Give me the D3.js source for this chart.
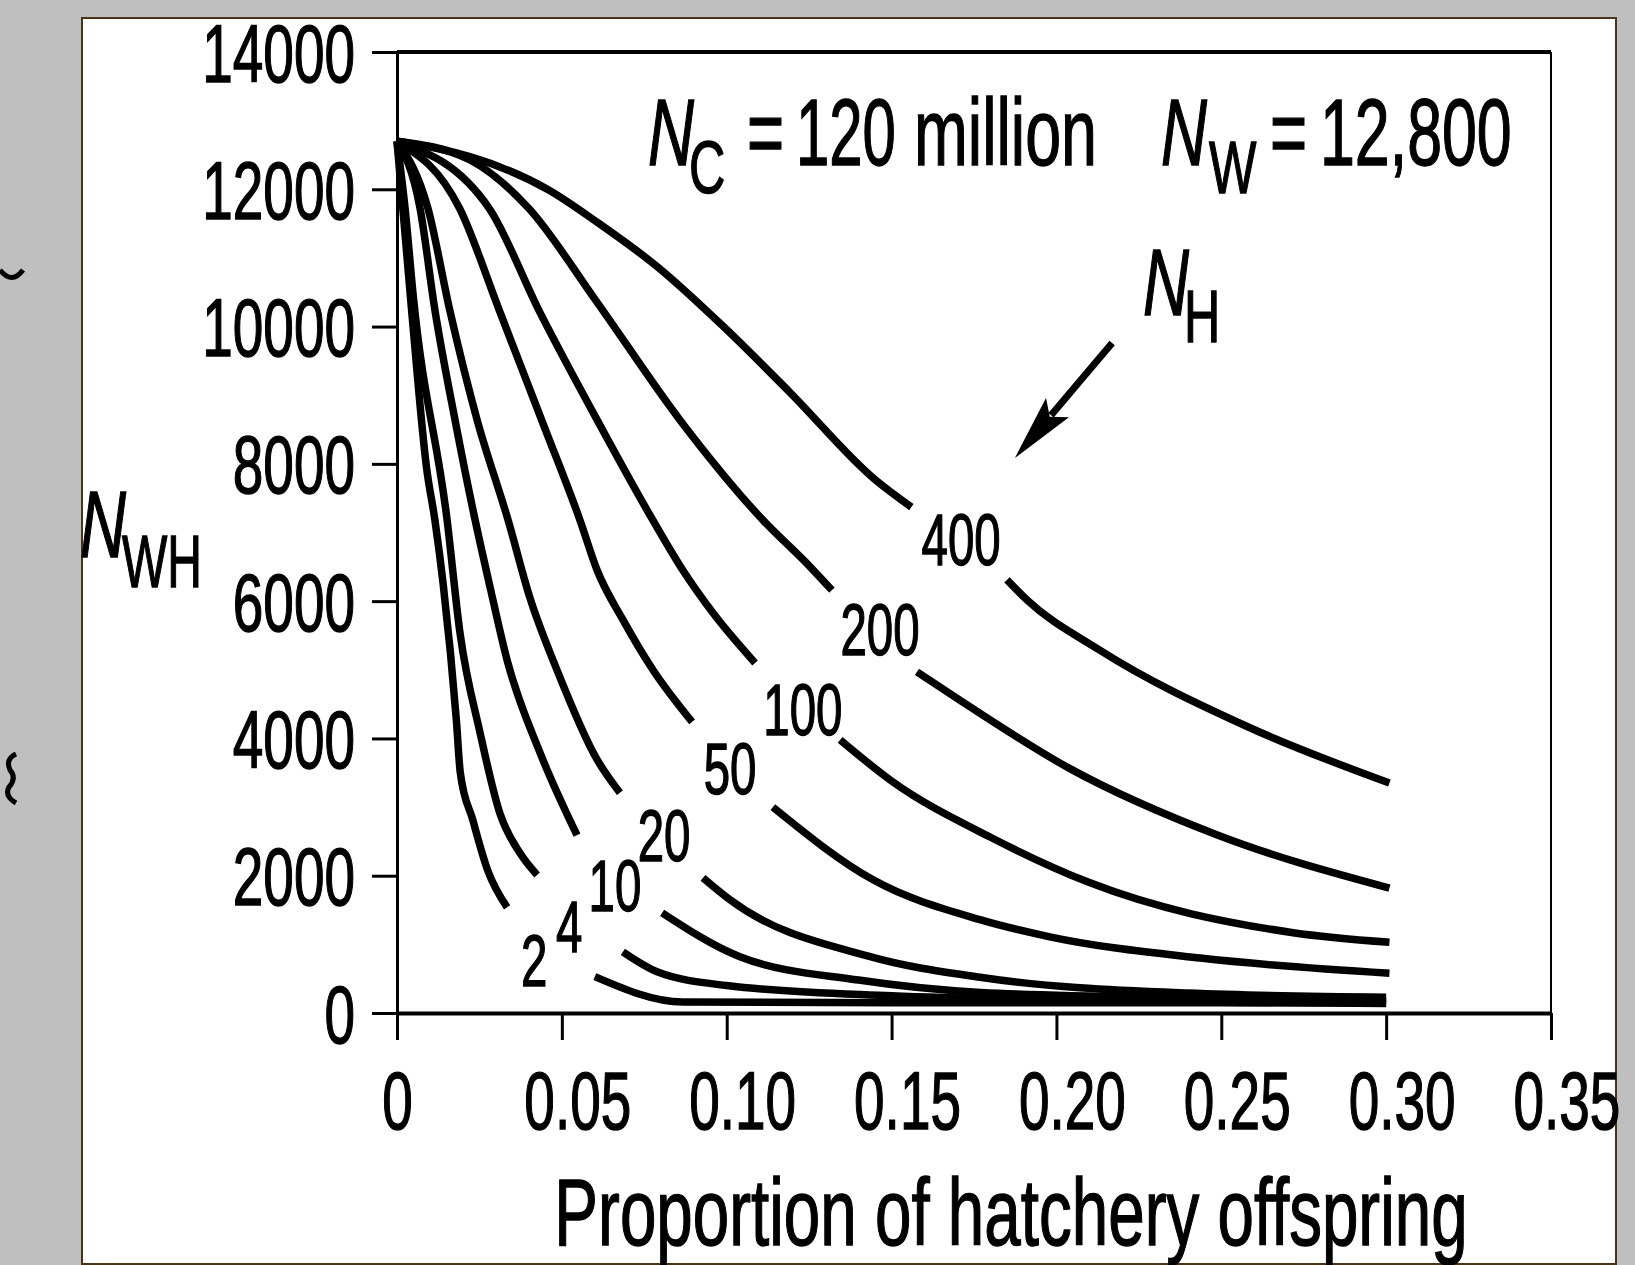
<!DOCTYPE html>
<html>
<head>
<meta charset="utf-8">
<script src="https://cdn.jsdelivr.net/npm/d3@7"></script>
<style>
  html, body { margin: 0; padding: 0; background: #bfbfbf; }
  svg { display: block; }
  text { font-family: "Liberation Sans", Arial, sans-serif; fill: #000; stroke: #000; stroke-width: 1.4px; }
</style>
</head>
<body>
<svg id="chart" width="1635" height="1265"></svg>
<script>
// axis ticks
const xTicks = [0, 0.05, 0.10, 0.15, 0.20, 0.25, 0.30, 0.35];
const xTickLabels = ['0', '0.05', '0.10', '0.15', '0.20', '0.25', '0.30', '0.35'];
const yTicks = [0, 2000, 4000, 6000, 8000, 10000, 12000, 14000];

// hatchery sizes (N_H), one curve each
const hatcherySizes = [2, 4, 10, 20, 50, 100, 200, 400];

// [proportion of hatchery offspring, N_WH]; null = break where the label sits
const nwh2 = [[0,12700],[0.0045,10200],[0.009,7930],[0.0115,7180],[0.014,6250],[0.018,4270],[0.0192,3500],[0.023,2810],[0.0275,2080],[0.0334,1540],[0.045,null],[0.060,530],[0.0867,160],[0.15,150],[0.30,150]];
const nwh4 = [[0,12700],[0.0025,11700],[0.0049,10460],[0.0152,7180],[0.0191,5540],[0.0252,4080],[0.0312,2910],[0.0373,2330],[0.0425,2010],[0.05,null],[0.0685,890],[0.0789,600],[0.10,400],[0.15,250],[0.20,190],[0.30,140]];
const nwh10 = [[0,12700],[0.007,11720],[0.0115,10240],[0.0176,8640],[0.0237,7180],[0.0282,6210],[0.0334,5140],[0.0434,3790],[0.0546,2590],[0.06,null],[0.0804,1460],[0.104,820],[0.14,480],[0.177,300],[0.24,220],[0.30,180]];
const nwh20 = [[0,12700],[0.0094,11720],[0.016,10240],[0.0243,8640],[0.0337,7180],[0.0403,6050],[0.0485,5000],[0.0607,3690],[0.0676,3210],[0.075,null],[0.0928,1970],[0.101,1650],[0.1435,820],[0.1768,520],[0.24,290],[0.30,230]];
const nwh50 = [[0,12700],[0.019,11720],[0.031,10240],[0.045,8500],[0.0555,7180],[0.0607,6450],[0.0685,5730],[0.0776,5000],[0.0895,4240],[0.10,null],[0.114,3000],[0.1444,1940],[0.1768,1360],[0.198,1110],[0.2436,800],[0.301,580]];
const nwh100 = [[0,12700],[0.028,11720],[0.043,10240],[0.0616,8560],[0.0776,7180],[0.0867,6450],[0.0958,5830],[0.1086,5100],[0.12,null],[0.1344,3980],[0.15,3380],[0.18,2560],[0.21,1900],[0.2718,1170],[0.301,1030]];
const nwh200 = [[0,12700],[0.022,12430],[0.040,11720],[0.060,10400],[0.0858,8640],[0.111,7180],[0.1253,6500],[0.1319,6160],[0.14,null],[0.1577,4970],[0.17,4580],[0.2041,3560],[0.249,2590],[0.301,1820]];
const nwh400 = [[0,12700],[0.018,12530],[0.031,12330],[0.046,11990],[0.061,11510],[0.079,10870],[0.099,10000],[0.119,9050],[0.145,7770],[0.156,7370],[0.17,null],[0.185,6310],[0.191,6020],[0.213,5290],[0.258,4170],[0.301,3350]];
const curves = [nwh2, nwh4, nwh10, nwh20, nwh50, nwh100, nwh200, nwh400];

// where each N_H label sits, in data units
const labelAt = [[0.0416,772],[0.0522,1267],[0.0661,1865],[0.081,2593],[0.101,3569],[0.1231,4429],[0.1465,5594],[0.1711,6905]];

// N_H arrow, data units
const arrowFrom = [0.2169, 9761];
const arrowTo = [0.1874, 8085];

const svg = d3.select('#chart');
const squeeze = 0.67;

// white slide panel
svg.append('rect')
  .attr('x', 82).attr('y', 18).attr('width', 1534).attr('height', 1246)
  .attr('fill', '#fff').attr('stroke', '#4a3418').attr('stroke-width', 2);

// small stray marks in the grey margin
svg.append('path').attr('d', 'M0,270 Q12,285 23,270').attr('fill', 'none').attr('stroke', '#000').attr('stroke-width', 5);
svg.append('path').attr('d', 'M16,754 Q5,759 10,770 Q17,778 9,787 Q4,796 16,803').attr('fill', 'none').attr('stroke', '#000').attr('stroke-width', 5);

const x = d3.scaleLinear().domain([0, 0.35]).range([397, 1551]);
const y = d3.scaleLinear().domain([0, 14000]).range([1013, 52]);

// frame top and right
svg.append('line').attr('x1', x(0)).attr('x2', x(0.35)).attr('y1', y(14000)).attr('y2', y(14000))
  .attr('stroke', '#000').attr('stroke-width', 4);
svg.append('line').attr('x1', x(0.35)).attr('x2', x(0.35)).attr('y1', y(14000)).attr('y2', y(0))
  .attr('stroke', '#000').attr('stroke-width', 2);

// x axis
const gx = svg.append('g')
  .attr('transform', `translate(0,${y(0)})`)
  .call(d3.axisBottom(x).tickValues(xTicks).tickSize(27).tickSizeOuter(0)
    .tickFormat((d, i) => xTickLabels[i]));
gx.attr('font-family', null).attr('font-size', null);
gx.select('.domain').attr('stroke-width', 4);
gx.selectAll('.tick line').attr('stroke-width', 3);
gx.selectAll('.tick text')
  .attr('y', null).attr('dy', null)
  .attr('font-size', 82)
  .attr('fill', '#000')
  .attr('text-anchor', d => d === 0 ? 'middle' : 'start')
  .attr('transform', d => d === 0 ? `translate(0,116) scale(${squeeze},1)` : `translate(-38,116) scale(${squeeze},1)`);

// y axis
const gy = svg.append('g')
  .attr('transform', `translate(${x(0)},0)`)
  .call(d3.axisLeft(y).tickValues(yTicks).tickSize(25).tickSizeOuter(0).tickFormat(d3.format('d')));
gy.attr('font-family', null).attr('font-size', null);
gy.select('.domain').attr('stroke-width', 3);
gy.selectAll('.tick line').attr('stroke-width', 3);
gy.selectAll('.tick text')
  .attr('x', null).attr('dy', null)
  .attr('font-size', 82)
  .attr('fill', '#000')
  .attr('text-anchor', 'end')
  .attr('transform', `translate(-42,29) scale(${squeeze},1)`);

// curves
const line = d3.line()
  .defined(d => d[1] !== null)
  .curve(d3.curveMonotoneX)
  .x(d => x(d[0]))
  .y(d => y(d[1]));

svg.append('g')
  .selectAll('path')
  .data(curves)
  .join('path')
  .attr('d', line)
  .attr('fill', 'none')
  .attr('stroke', '#000')
  .attr('stroke-width', 7.5)
  .attr('stroke-linejoin', 'round');

// N_H labels on the curves
svg.append('g')
  .selectAll('text')
  .data(hatcherySizes)
  .join('text')
  .attr('font-size', 73)
  .attr('text-anchor', 'middle')
  .attr('dy', '0.36em')
  .attr('transform', (d, i) => `translate(${x(labelAt[i][0])},${y(labelAt[i][1])}) scale(0.65,1)`)
  .text(d => d);

// helper for squeezed text pieces
function put(str, px, py, size, italic, k = squeeze) {
  svg.append('text')
    .attr('font-size', size)
    .attr('font-style', italic ? 'italic' : null)
    .attr('transform', `translate(${px},${py}) scale(${k},1)`)
    .text(str);
}

// header  N_C = 120 million   N_W = 12,800
put('N', 648, 165, 95, true);
put('C', 689, 193, 75, false);
put('=', 747, 165, 95, false);
put('120', 796, 165, 95, false, 0.63);
put('million', 914, 165, 95, false, 0.68);
put('N', 1161, 165, 95, true);
put('W', 1209, 193, 75, false);
put('=', 1270, 165, 95, false);
put('12,800', 1320, 165, 95, false, 0.66);

// N_H with arrow
put('N', 1143, 315, 95, true);
put('H', 1184, 342, 75, false);

const ax0 = x(arrowFrom[0]), ay0 = y(arrowFrom[1]);
const ax1 = x(arrowTo[0]), ay1 = y(arrowTo[1]);
const len = Math.hypot(ax1 - ax0, ay1 - ay0);
const ux = (ax1 - ax0) / len, uy = (ay1 - ay0) / len;
const headLen = 66, headHalf = 15;
svg.append('line')
  .attr('x1', ax0).attr('y1', ay0)
  .attr('x2', ax1 - ux * (headLen - 10)).attr('y2', ay1 - uy * (headLen - 10))
  .attr('stroke', '#000').attr('stroke-width', 7);
const bx = ax1 - ux * headLen, by = ay1 - uy * headLen;
svg.append('path')
  .attr('d', `M${ax1},${ay1} L${bx - uy * headHalf},${by + ux * headHalf} L${ax1 - ux * (headLen - 12)},${ay1 - uy * (headLen - 12)} L${bx + uy * headHalf},${by - ux * headHalf} Z`)
  .attr('fill', '#000');

// y axis title N_WH
put('N', 80, 557, 95, true);
put('WH', 122, 587, 75, false, 0.64);

// x axis title
svg.append('text')
  .attr('font-size', 95)
  .attr('text-anchor', 'middle')
  .attr('transform', `translate(1011,1245) scale(0.69,1)`)
  .text('Proportion of hatchery offspring');
</script>
</body>
</html>
